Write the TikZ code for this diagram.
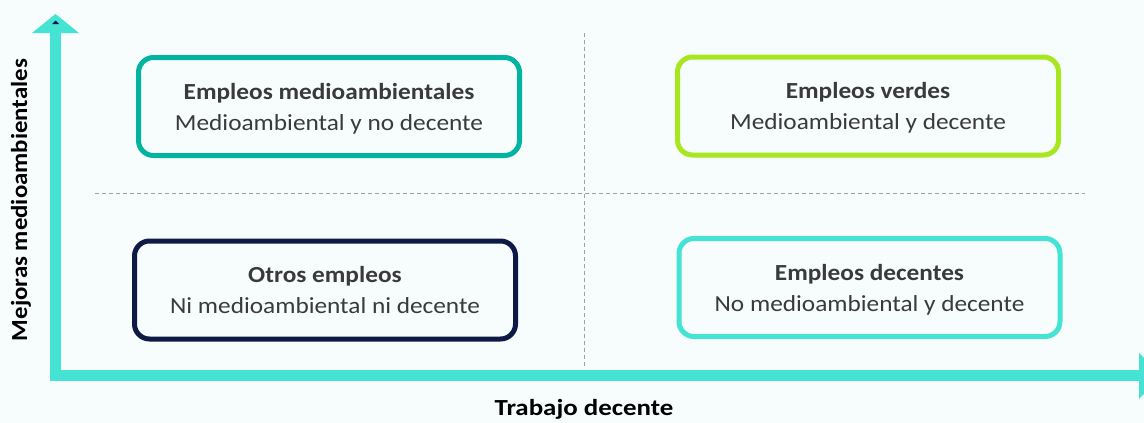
\documentclass[tikz,border=0pt]{standalone}
\usepackage{graphicx}
\usepackage{fontspec}
\setmainfont{Carlito}
\definecolor{bg}{HTML}{F7FCFD}
\definecolor{axis}{HTML}{44E3D3}
\definecolor{tealc}{HTML}{00B4A0}
\definecolor{limec}{HTML}{A8E620}
\definecolor{navyc}{HTML}{0E1A45}
\definecolor{txt}{HTML}{3A3A3A}
\definecolor{dashc}{HTML}{A0A0A0}
\newcommand\wtxt[1]{\scalebox{1.10}[1]{#1}}
\begin{document}
\begin{tikzpicture}[x=1pt,y=-1pt,
  quad/.style={draw, line width=5pt, rounded corners=15pt, minimum width=381pt, minimum height=98pt, align=center, text=txt, font=\fontsize{23}{31}\selectfont, fill=bg, text depth=-2pt},
  sep/.style={draw=dashc, line width=1pt, dash pattern=on 4pt off 3pt},
  axlab/.style={font=\fontsize{23}{28}\selectfont\bfseries, text=black}]
\fill[bg] (0,0) rectangle (1144,423);
\useasboundingbox (0,0) rectangle (1144,423);
% dashed separators
\coordinate (hl) at (95,193);
\coordinate (hr) at (1085,193);
\coordinate (vt) at (584,33);
\coordinate (vb) at (584,366);
\draw[sep] (hl) -- (hr);
\draw[sep] (vt) -- (vb);
% axes
\coordinate (ytip) at (55.5,14);
\coordinate (xtip) at (1162,375.5);
\fill[axis] (50,33) rectangle (61,381);
\fill[axis] (50,370) rectangle (1140,381);
\fill[axis] (32,33) -- (ytip) -- (79,33) -- cycle;
\fill[axis] (1139,353) -- (xtip) -- (1139,399) -- cycle;
\fill[navyc] (52,24) -- (55.5,20.5) -- (59,24) -- cycle;
% boxes
\node[quad, draw=tealc] (a) at (329,106.5) {\wtxt{\textbf{Empleos medioambientales}}\\\wtxt{Medioambiental y no decente}};
\node[quad, draw=limec] (b) at (868,106) {\wtxt{\textbf{Empleos verdes}}\\\wtxt{Medioambiental y decente}};
\node[quad, draw=navyc] (c) at (325,290) {\wtxt{\textbf{Otros empleos}}\\\wtxt{Ni medioambiental ni decente}};
\node[quad, draw=axis] (d) at (869.5,287.5) {\wtxt{\textbf{Empleos decentes}}\\\wtxt{No medioambiental y decente}};
% axis labels
\node[axlab, rotate=90] (ylab) at (21,200) {\scalebox{1.08}[1]{Mejoras medioambientales}};
\node[axlab] (xlab) at (584,409) {\scalebox{1.17}[1]{Trabajo decente}};
\end{tikzpicture}
\end{document}
